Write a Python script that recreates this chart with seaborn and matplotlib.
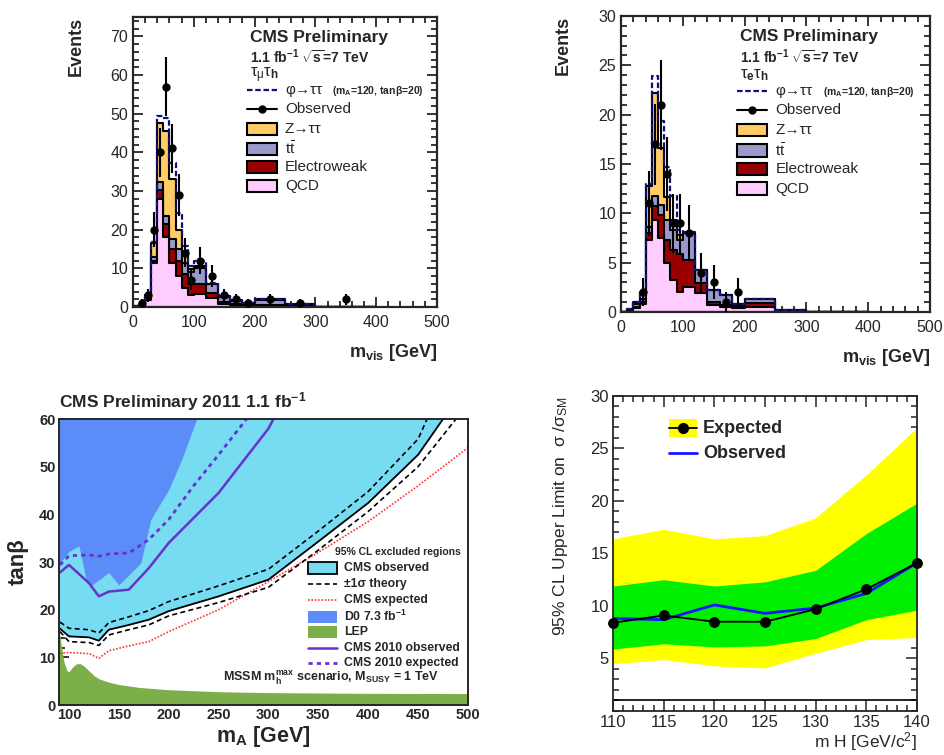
import numpy as np
import pandas as pd
import matplotlib
matplotlib.use('Agg')
import matplotlib.pyplot as plt
import seaborn as sns
from matplotlib.ticker import MultipleLocator
from matplotlib.patches import Rectangle

# ---------------- data ----------------

# visible mass binning (GeV)
mvis_edges = [0, 10, 20, 30, 40, 50, 60, 70, 80, 90, 100, 120, 140, 160, 180, 200, 250, 300, 400]

# mu + tau_h channel (events per bin)
mutau_qcd = [0.1, 0.3, 1.8, 11.3, 28.0, 18.0, 11.5, 8.0, 5.0, 3.2, 3.3, 2.2, 0.9, 0.5, 0.3, 0.2, 0.1, 0.02]
mutau_ewk = [0.0, 0.1, 0.3, 0.5, 2.2, 3.5, 3.5, 4.0, 3.5, 2.8, 2.7, 1.5, 0.4, 0.4, 0.2, 0.2, 0.1, 0.02]
mutau_ttbar = [0.1, 0.2, 0.5, 1.0, 2.1, 2.0, 2.5, 3.0, 3.0, 3.0, 4.0, 2.2, 1.3, 0.7, 0.5, 1.4, 0.4, 0.04]
mutau_ztt = [0.1, 0.3, 0.6, 3.7, 15.2, 22.0, 15.5, 5.0, 2.3, 0.8, 0.5, 0.1, 0.2, 0.2, 0.1, 0.2, 0.1, 0.02]
mutau_signal = [0, 0, 0, 0.3, 2.0, 3.5, 4.3, 4.3, 2.0, 0.9, 1.5, 0.3, 0.2, 0, 0, 0, 0, 0]
mutau_observed = [0, 1, 3, 20, 40, 57, 41, 29, 14, 7, 12, 8, 3, 2, 1, 2, 1, 2]

# e + tau_h channel (events per bin)
etau_qcd = [0.0, 0.1, 0.4, 0.8, 7.3, 9.3, 7.5, 5.0, 3.2, 2.0, 2.5, 1.9, 0.7, 0.5, 0.4, 0.5, 0.05, 0.0]
etau_ewk = [0.0, 0.05, 0.1, 0.2, 0.7, 1.4, 2.3, 2.3, 3.1, 3.9, 2.8, 1.0, 0.3, 0.2, 0.2, 0.4, 0.05, 0.0]
etau_ttbar = [0.0, 0.05, 0.3, 0.3, 0.6, 1.1, 1.0, 2.0, 2.0, 1.4, 2.7, 1.4, 1.2, 1.0, 0.2, 0.4, 0.1, 0.02]
etau_ztt = [0.0, 0.1, 0.2, 0.7, 4.2, 10.4, 5.8, 2.4, 1.0, 0.5, 0.0, 0.0, 0.0, 0.0, 0.0, 0.0, 0.0, 0.0]
etau_signal = [0, 0, 0, 0, 0.2, 1.7, 2.8, 3.0, 2.5, 0.5, 0.1, 0, 0, 0, 0, 0, 0, 0]
etau_observed = [0, 0, 0, 2, 11, 17, 21, 14, 9, 9, 8, 4, 3, 1, 2, 0, 0, 0]

# MSSM exclusion in the (m_A, tan beta) plane
obs_mass = [90, 100, 120, 130, 140, 160, 180, 200, 250, 300, 350, 400, 450, 475]
obs_tanb = [16.2, 14.4, 14.2, 13.5, 15.8, 16.8, 17.9, 19.7, 22.8, 26.3, 34.3, 42.4, 52.5, 60]
theory_hi_mass = [91, 100, 120, 130, 140, 160, 180, 200, 250, 300, 350, 400, 450, 459]
theory_hi_tanb = [17.4, 16.1, 15.8, 15.1, 17.3, 18.5, 19.8, 21.7, 25.0, 28.5, 36.5, 44.8, 55.8, 60]
theory_lo_mass = [91, 100, 120, 130, 140, 160, 180, 200, 250, 300, 350, 400, 450, 488]
theory_lo_tanb = [15.4, 13.3, 13.1, 12.5, 14.7, 15.8, 16.8, 18.7, 21.5, 24.7, 32.5, 40.6, 50.0, 60]
exp_mass = [91, 100, 120, 130, 140, 160, 180, 200, 250, 300, 350, 400, 450, 500]
exp_tanb = [10.9, 11.0, 10.8, 9.8, 11.4, 12.4, 13.3, 15.4, 20.0, 25.9, 32.0, 38.5, 46.0, 54.0]
d0_mass = [90, 92, 100, 110, 118, 123, 140, 150, 172, 182, 200, 213, 228]
d0_tanb = [29.5, 30.1, 32.2, 33.4, 25.6, 25.2, 27.8, 25.2, 29.8, 38.9, 45.2, 51.5, 60]
lep_mass = [90, 92, 95, 98, 100, 103, 107, 111, 115, 120, 125, 130, 140, 150, 170, 200, 250, 300, 400, 500]
lep_tanb = [16.0, 13.0, 9.0, 7.2, 7.0, 7.8, 8.6, 8.7, 8.2, 7.2, 6.2, 5.5, 4.8, 4.3, 3.7, 3.2, 2.8, 2.6, 2.45, 2.4]
cms2010_obs_mass = [91, 100, 120, 130, 140, 160, 180, 200, 250, 300, 305]
cms2010_obs_tanb = [27.8, 29.4, 25.6, 22.8, 23.8, 24.2, 28.7, 34.0, 44.5, 58.0, 60]
cms2010_exp_mass = [91, 100, 120, 130, 140, 160, 180, 200, 225, 250, 278]
cms2010_exp_tanb = [29.4, 31.3, 31.5, 31.2, 31.7, 31.9, 34.7, 38.9, 46.0, 52.5, 60]

# SM Higgs limit
higgs_mass = [110, 115, 120, 125, 130, 135, 140]
expected_limit = [8.4, 9.1, 8.5, 8.5, 9.7, 11.6, 14.1]
observed_limit = [8.8, 8.7, 10.1, 9.3, 9.8, 11.2, 14.1]
band1_low = [5.9, 6.4, 6.1, 6.2, 6.9, 8.7, 9.6]
band1_high = [11.9, 12.5, 11.9, 12.3, 13.4, 16.9, 19.8]
band2_low = [4.5, 4.9, 4.3, 4.1, 5.5, 6.8, 7.0]
band2_high = [16.4, 17.3, 16.4, 16.7, 18.4, 22.5, 27.0]

# ---------------- style ----------------
sns.set_style('ticks')
plt.rcParams['font.family'] = ['Liberation Sans', 'DejaVu Sans']
plt.rcParams['mathtext.fontset'] = 'custom'
plt.rcParams['mathtext.rm'] = 'Liberation Sans'
plt.rcParams['mathtext.it'] = 'Liberation Sans'
plt.rcParams['mathtext.bf'] = 'Liberation Sans:bold'
plt.rcParams['mathtext.sf'] = 'Liberation Sans'

signal_colour = '#10107a'
stack_colours = ['#ffcc66', '#9999cc', '#990000', '#ffccff']   # Z, tt, EWK, QCD (top to bottom)
stack_labels = ['Z→ττ', r't$\bar{\mathrm{t}}$', 'Electroweak', 'QCD']


def plot_mvis(ax, qcd, ewk, ttbar, ztt, signal, observed, channel, ymax, ymajor, yminor):
    edges = np.array(mvis_edges, dtype=float)
    centres = 0.5 * (edges[:-1] + edges[1:])
    stack = np.cumsum([qcd, ewk, ttbar, ztt], axis=0)
    hist = pd.DataFrame({'mvis': centres, 'sig': stack[-1] + np.array(signal),
                         'l0': stack[3], 'l1': stack[2], 'l2': stack[1], 'l3': stack[0]})

    # signal on top of the total background
    sns.histplot(data=hist, x='mvis', weights='sig', bins=mvis_edges, element='step',
                 fill=False, color=signal_colour, linestyle=(0, (2.5, 1.2)), linewidth=1.6, ax=ax)

    # stacked backgrounds, drawn from the top layer down
    for col, colour in zip(['l0', 'l1', 'l2', 'l3'], stack_colours):
        sns.histplot(data=hist, x='mvis', weights=col, bins=mvis_edges, element='step', fill=True,
                     color=colour, alpha=1, edgecolor='black', linewidth=1.5, ax=ax)

    # observed data
    obs = np.array(observed, dtype=float)
    has = obs > 0
    ax.errorbar(centres[has], obs[has], yerr=np.sqrt(obs[has]), fmt='o', color='black',
                ms=5, elinewidth=1.5, capsize=0, zorder=5)

    ax.set_xlim(0, 500)
    ax.set_ylim(0, ymax)
    ax.xaxis.set_major_locator(MultipleLocator(100))
    ax.xaxis.set_minor_locator(MultipleLocator(20))
    ax.yaxis.set_major_locator(MultipleLocator(ymajor))
    ax.yaxis.set_minor_locator(MultipleLocator(yminor))
    ax.tick_params(which='both', direction='in', top=True, right=True, width=1.3, labelsize=11.5)
    ax.tick_params(which='major', length=7)
    ax.tick_params(which='minor', length=4)
    ax.tick_params(axis='x', pad=6)
    for s in ax.spines.values():
        s.set_linewidth(1.6)
    ax.set_xlabel(r'm$_{\mathbf{vis}}$ [GeV]', fontsize=13, fontweight='bold', loc='right')
    ax.xaxis.set_label_coords(1.0, -0.12)
    ax.set_ylabel('Events', fontsize=13, fontweight='bold', loc='top')
    ax.yaxis.set_label_coords(-0.16, 1.0)

    # legend block
    tr = ax.transAxes
    ax.text(0.385, 0.93, 'CMS Preliminary', transform=tr, fontsize=12.5, fontweight='bold', va='center')
    ax.text(0.385, 0.862, r'1.1 fb$^{\mathbf{-1}}$ $\sqrt{\mathbf{s}}$=7 TeV', transform=tr,
            fontsize=10, fontweight='bold', va='center')
    ax.text(0.385, 0.800, channel, transform=tr, fontsize=12, va='center')
    rows = [0.748, 0.683, 0.614, 0.545, 0.483, 0.417]
    x0, x1, xt = 0.375, 0.474, 0.50
    ax.plot([x0, x1], [rows[0]] * 2, transform=tr, color=signal_colour, lw=1.6, ls=(0, (2.5, 1.2)))
    ax.text(xt, rows[0], 'φ→ττ', transform=tr, fontsize=11, va='center')
    ax.text(0.655, rows[0] - 0.004, r'(m$_{\mathbf{A}}$=120, tan$\mathbf{\beta}$=20)', transform=tr,
            fontsize=7.5, fontweight='bold', va='center')
    ax.plot([x0, x1], [rows[1]] * 2, transform=tr, color='black', lw=1.5)
    ax.plot([(x0 + x1) / 2], [rows[1]], 'o', transform=tr, color='black', ms=5)
    ax.text(xt, rows[1], 'Observed', transform=tr, fontsize=11, va='center')
    for row, colour, label in zip(rows[2:], stack_colours, stack_labels):
        ax.add_patch(Rectangle((x0, row - 0.021), x1 - x0, 0.042, transform=tr, facecolor=colour,
                               edgecolor='black', lw=1.5, clip_on=False))
        ax.text(xt, row, label, transform=tr, fontsize=11, va='center')


fig = plt.figure(figsize=(9.45, 7.55), dpi=100, facecolor='white')

# ---------- top left: mu tau ----------
ax1 = fig.add_axes([0.1407, 0.5934, 0.3217, 0.3841])
plot_mvis(ax1, mutau_qcd, mutau_ewk, mutau_ttbar, mutau_ztt, mutau_signal, mutau_observed,
          r'$\tau_{\mu}\tau_{\mathbf{h}}$', 75, 10, 2)

# ---------- top right: e tau ----------
ax2 = fig.add_axes([0.6571, 0.5868, 0.3270, 0.3920])
plot_mvis(ax2, etau_qcd, etau_ewk, etau_ttbar, etau_ztt, etau_signal, etau_observed,
          r'$\tau_{\mathbf{e}}\tau_{\mathbf{h}}$', 30, 5, 1)

# ---------- bottom left: MSSM exclusion ----------
cyan, d0_blue, lep_green, purple, red = '#77dbf2', '#5b8cf8', '#7caf4a', '#6633cc', '#ff3333'
ax3 = fig.add_axes([0.0624, 0.0662, 0.4328, 0.3788])
ax3.fill_between(obs_mass, obs_tanb, 60, color=cyan, lw=0, zorder=1)
ax3.fill_between(d0_mass, d0_tanb, 60, color=d0_blue, lw=0, zorder=1.1)
ax3.fill_between(lep_mass, 0, lep_tanb, color=lep_green, lw=0, zorder=1.2)
sns.lineplot(x=exp_mass, y=exp_tanb, color=red, lw=1.2, ls=(0, (1, 1)), ax=ax3, zorder=2)
sns.lineplot(x=theory_hi_mass, y=theory_hi_tanb, color='black', lw=1.2, ls=(0, (3, 2)), ax=ax3, zorder=2)
sns.lineplot(x=theory_lo_mass, y=theory_lo_tanb, color='black', lw=1.2, ls=(0, (3, 2)), ax=ax3, zorder=2)
sns.lineplot(x=obs_mass, y=obs_tanb, color='black', lw=1.3, ax=ax3, zorder=2)
sns.lineplot(x=cms2010_obs_mass, y=cms2010_obs_tanb, color=purple, lw=1.8, ax=ax3, zorder=2)
sns.lineplot(x=cms2010_exp_mass, y=cms2010_exp_tanb, color=purple, lw=2.0, ls=(0, (1.5, 1.5)), ax=ax3, zorder=2)
ax3.set_xlim(90, 500)
ax3.set_ylim(0, 60)
ax3.xaxis.set_major_locator(MultipleLocator(50))
ax3.xaxis.set_minor_locator(MultipleLocator(10))
ax3.yaxis.set_major_locator(MultipleLocator(10))
ax3.yaxis.set_minor_locator(MultipleLocator(2))
ax3.tick_params(which='both', direction='in', width=1.3, labelsize=10.5)
ax3.tick_params(which='major', length=7, pad=2.5)
ax3.tick_params(which='minor', length=4)
for lab in ax3.get_xticklabels() + ax3.get_yticklabels():
    lab.set_fontweight('bold')
for s in ax3.spines.values():
    s.set_linewidth(1.4)
ax3.set_xlabel(r'm$_{\mathbf{A}}$ [GeV]', fontsize=15.5, fontweight='bold')
ax3.xaxis.set_label_coords(0.5, -0.068)
ax3.set_ylabel('tanβ', fontsize=16, fontweight='bold')
ax3.yaxis.set_label_coords(-0.075, 0.5)
ax3.text(0.0, 1.06, r'CMS Preliminary 2011 1.1 fb$^{\mathbf{-1}}$', transform=ax3.transAxes,
         fontsize=12.5, fontweight='bold', va='center')

tr3 = ax3.transAxes
lx0, lx1, lxt = 0.609, 0.680, 0.697
ax3.text(0.675, 0.535, '95% CL excluded regions', transform=tr3, fontsize=7.5, fontweight='bold', va='center')
leg_rows = [0.480, 0.423, 0.367, 0.309, 0.255, 0.200, 0.147]
ax3.add_patch(Rectangle((lx0, leg_rows[0] - 0.021), lx1 - lx0, 0.042, transform=tr3, facecolor=cyan,
                        edgecolor='black', lw=1.3, zorder=3))
ax3.plot([lx0, lx1], [leg_rows[1]] * 2, transform=tr3, color='black', lw=1.2, ls=(0, (3, 2)), zorder=3)
ax3.plot([lx0, lx1], [leg_rows[2]] * 2, transform=tr3, color=red, lw=1.2, ls=(0, (1, 1)), zorder=3)
ax3.add_patch(Rectangle((lx0, leg_rows[3] - 0.021), lx1 - lx0, 0.042, transform=tr3, facecolor=d0_blue,
                        edgecolor='none', zorder=3))
ax3.add_patch(Rectangle((lx0, leg_rows[4] - 0.021), lx1 - lx0, 0.042, transform=tr3, facecolor=lep_green,
                        edgecolor='none', zorder=3))
ax3.plot([lx0, lx1], [leg_rows[5]] * 2, transform=tr3, color=purple, lw=1.8, zorder=3)
ax3.plot([lx0, lx1], [leg_rows[6]] * 2, transform=tr3, color=purple, lw=2.0, ls=(0, (1.5, 1.5)), zorder=3)
leg3_labels = ['CMS observed', '±1σ theory', 'CMS expected', r'D0 7.3 fb$^{\mathbf{-1}}$', 'LEP',
               'CMS 2010 observed', 'CMS 2010 expected']
for row, label in zip(leg_rows, leg3_labels):
    ax3.text(lxt, row, label, transform=tr3, fontsize=8.8, fontweight='bold', va='center', zorder=3)
ax3.text(0.401, 0.094, r'MSSM m$_{\mathbf{h}}^{\mathbf{max}}$ scenario, M$_{\mathbf{SUSY}}$ = 1 TeV',
         transform=tr3, fontsize=9, fontweight='bold', va='center', zorder=3)

# ---------- bottom right: SM Higgs limit ----------
ax4 = fig.add_axes([0.6487, 0.0583, 0.3217, 0.4172])
ax4.fill_between(higgs_mass, band2_low, band2_high, color='#ffff00', lw=0, zorder=1)
ax4.fill_between(higgs_mass, band1_low, band1_high, color='#00ee00', lw=0, zorder=1.1)
ax4.axhline(1, color='black', lw=1.2, zorder=2)
sns.lineplot(x=higgs_mass, y=observed_limit, color='#1515ff', lw=2, ax=ax4, zorder=3)
sns.lineplot(x=higgs_mass, y=expected_limit, color='black', lw=1.3, marker='o', markersize=7,
             markeredgecolor='black', ax=ax4, zorder=4, clip_on=False)
ax4.set_xlim(110, 140)
ax4.set_ylim(0, 30)
ax4.set_yticks([5, 10, 15, 20, 25, 30])
ax4.xaxis.set_major_locator(MultipleLocator(5))
ax4.xaxis.set_minor_locator(MultipleLocator(1))
ax4.yaxis.set_minor_locator(MultipleLocator(1))
ax4.tick_params(which='both', direction='in', top=True, right=True, width=1.1, labelsize=12)
ax4.tick_params(which='major', length=8, pad=3)
ax4.tick_params(which='minor', length=4)
for s in ax4.spines.values():
    s.set_linewidth(1.3)
ax4.set_xlabel(r'm H [GeV/c$^{2}$]', fontsize=12.5, loc='right')
ax4.xaxis.set_label_coords(1.0, -0.062)
ax4.set_ylabel(r'95% CL Upper Limit on  $\sigma$ /$\sigma_{\mathrm{SM}}$', fontsize=12.5, loc='top')
ax4.yaxis.set_label_coords(-0.14, 1.0)

tr4 = ax4.transAxes
hx0, hx1, hxt = 0.184, 0.276, 0.296
ax4.add_patch(Rectangle((hx0, 0.898 - 0.029), hx1 - hx0, 0.058, transform=tr4, facecolor='#ffff00',
                        edgecolor='none', zorder=5))
ax4.plot([hx0, hx1], [0.898] * 2, transform=tr4, color='black', lw=1.3, zorder=6)
ax4.plot([(hx0 + hx1) / 2], [0.898], 'o', transform=tr4, color='black', ms=7, zorder=6)
ax4.plot([hx0, hx1], [0.818] * 2, transform=tr4, color='#1515ff', lw=2, zorder=6)
ax4.text(hxt, 0.898, 'Expected', transform=tr4, fontsize=13, fontweight='bold', va='center')
ax4.text(hxt, 0.818, 'Observed', transform=tr4, fontsize=13, fontweight='bold', va='center')

plt.savefig('out.png', dpi=100, facecolor='white')
